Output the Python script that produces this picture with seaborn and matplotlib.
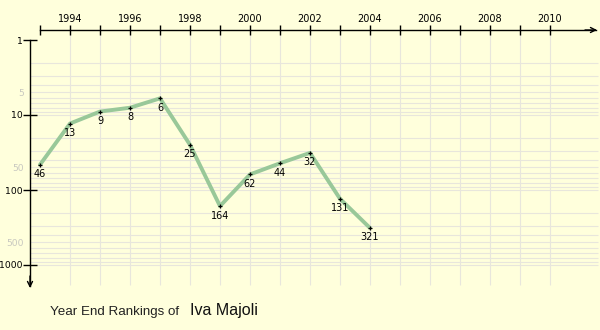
import matplotlib
matplotlib.use("Agg")
import matplotlib.pyplot as plt
import numpy as np
import pandas as pd
import seaborn as sns
from matplotlib.ticker import FixedLocator, FixedFormatter

# Year-end singles rankings
years = [1993, 1994, 1995, 1996, 1997, 1998, 1999, 2000, 2001, 2002, 2003, 2004]
ranks = [46, 13, 9, 8, 6, 25, 164, 62, 44, 32, 131, 321]
player = "Iva Majoli"

year_ticks = list(range(1993, 2011))
year_labels = [str(y) if y % 2 == 0 else "" for y in year_ticks]
grid_years = list(range(1994, 2011))
rank_major = [1, 10, 100, 1000]
rank_minor = [5, 50, 500]
rank_grid = [m * 10 ** e for e in range(0, 3) for m in range(2, 11)]

df = pd.DataFrame({"year": years, "rank": ranks})

sns.set_theme(style="white")
plt.rcParams["font.family"] = ["DejaVu Sans"]

bg = "#ffffdc"
grid_c = "#e8e6dc"
line_c = "#99c899"

fig = plt.figure(figsize=(6, 3.3), dpi=100, facecolor=bg)
ax = fig.add_axes([0, 0, 1, 1])
ax.set_facecolor(bg)

# pixel layout: 30 px per year, 75 px per decade of rank
x0, px_year = 1993, 30.0
def xd(px):
    return x0 + (px - 40) / px_year
def yd(px):
    return 10 ** ((px - 40) / 75.0)

ax.set_yscale("log")
ax.set_xlim(xd(0), xd(600))
ax.set_ylim(yd(330), yd(0))

# grid
ax.vlines(grid_years, yd(30), yd(285), color=grid_c, lw=0.8, zorder=0)
ax.hlines(rank_grid, xd(30), xd(598), color=grid_c, lw=0.8, zorder=0)

# data
sns.lineplot(data=df, x="year", y="rank", ax=ax, color=line_c, lw=2.8,
             zorder=2, legend=False)
ax.scatter(df["year"], df["rank"], marker="+", s=12, color="black",
           linewidths=0.9, zorder=3)
for yr, rk in zip(years, ranks):
    ax.annotate(str(rk), (yr, rk), xytext=(0, -3.2), textcoords="offset points",
                ha="center", va="top", fontsize=7, color="black", zorder=4)

# axes lines
for s in ["right", "bottom"]:
    ax.spines[s].set_visible(False)
ax.spines["top"].set_position(("data", yd(30)))
ax.spines["top"].set_bounds(xd(40), xd(596))
ax.spines["left"].set_position(("data", xd(30)))
ax.spines["left"].set_bounds(yd(40), yd(286))
for s in ["top", "left"]:
    ax.spines[s].set_color("black")
    ax.spines[s].set_linewidth(1.0)

ax.xaxis.set_ticks_position("top")
ax.xaxis.set_major_locator(FixedLocator(year_ticks))
ax.xaxis.set_major_formatter(FixedFormatter(year_labels))
ax.xaxis.set_minor_locator(FixedLocator([]))
ax.tick_params(axis="x", which="major", direction="inout", length=7, width=1,
               pad=1, labelsize=7, colors="black")

ax.yaxis.set_ticks_position("left")
ax.yaxis.set_major_locator(FixedLocator(rank_major))
ax.yaxis.set_major_formatter(FixedFormatter([str(v) for v in rank_major]))
ax.yaxis.set_minor_locator(FixedLocator(rank_minor))
ax.yaxis.set_minor_formatter(FixedFormatter([str(v) for v in rank_minor]))
ax.tick_params(axis="y", which="major", direction="inout", length=10, width=1,
               pad=0.3, labelsize=6.7, colors="black")
ax.tick_params(axis="y", which="minor", length=0, pad=4.5, labelsize=6.7,
               labelcolor="#c8c8c0")
ax.set_xlabel("")
ax.set_ylabel("")

# arrowheads
ax.annotate("", xy=(xd(597), yd(30)), xytext=(xd(585), yd(30)),
            arrowprops=dict(arrowstyle="->", color="black", lw=1.0,
                            mutation_scale=9, shrinkA=0, shrinkB=0))
ax.annotate("", xy=(xd(30), yd(288)), xytext=(xd(30), yd(276)),
            arrowprops=dict(arrowstyle="->", color="black", lw=1.0,
                            mutation_scale=9, shrinkA=0, shrinkB=0))

# caption
fig.text(50 / 600, 1 - 315.5 / 330, "Year End Rankings of", ha="left",
         va="baseline", fontsize=9.6, color="#222222", family="Liberation Sans")
fig.text(190 / 600, 1 - 315.5 / 330, player, ha="left", va="baseline",
         fontsize=11.5, color="#111111", family="Liberation Sans")

fig.savefig("out.png", dpi=100, facecolor=bg)
